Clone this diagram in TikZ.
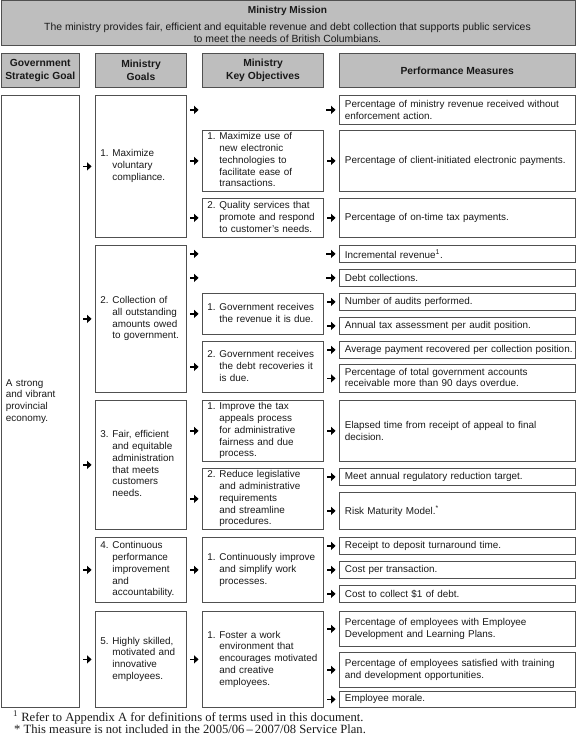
\documentclass[tikz,border=0pt]{standalone}
\usepackage{fontspec}
\setmainfont{Liberation Sans}
\newfontfamily\fnserif{Liberation Serif}
\usetikzlibrary{arrows.meta}
\definecolor{hdr}{RGB}{190,190,190}
\definecolor{bord}{RGB}{80,80,80}
\definecolor{txt}{RGB}{25,25,25}
\newcommand\li[2]{\makebox[12pt][l]{#1}\begin{tabular}[t]{@{}l@{}}#2\end{tabular}}
\newcommand\bx[6]{\node[#1, minimum height={(#5-#4)*1pt}] (#2) at (#3,#4) {#6};}
\tikzset{
 base/.style={draw=bord, line width=0.8pt, inner xsep=5pt, inner ysep=0pt, align=left, text=txt,
   font=\fontsize{9.9}{11.8}\selectfont, anchor=north west},
 c1/.style={base, minimum width=78.5pt, text width=68.5pt},
 c2/.style={base, minimum width=91pt, text width=81pt},
 c3/.style={base, minimum width=121pt, text width=111pt},
 c4/.style={base, minimum width=235.5pt, text width=224.5pt, inner xsep=5.5pt},
 hd/.style={base, fill=hdr, text width=, align=center, inner xsep=0pt, font=\bfseries\fontsize{10.3}{13}\selectfont, line width=1pt},
 arr/.style={line width=1.7pt, -{Triangle[length=4.6pt,width=8pt]}, shorten >=3.4pt, shorten <=3.4pt},
 plain/.style={inner sep=0pt, text=txt},
 fn/.style={inner sep=0pt, text=txt, font=\fnserif\fontsize{12.6}{13}\selectfont, anchor=base west},
}
\begin{document}
\begin{tikzpicture}[x=1pt,y=-1pt]
\useasboundingbox (0,0) rectangle (575,735);
% mission
\node[base, fill=hdr, minimum width=574pt, minimum height=44.5pt, line width=1pt] (mission) at (0.5,0.5) {};
\node[plain, font=\bfseries\fontsize{10.1}{12}\selectfont] (mtitle) at (287.5,10.5) {Ministry Mission};
\node[plain, align=center, font=\fontsize{10.4}{12}\selectfont] (mtext) at (287.5,33) {The ministry provides fair, efficient and equitable revenue and debt collection that supports public services\\to meet the needs of British Columbians.};
% headers
\bx{c1,hd}{h1}{0.5}{53}{87}{Government\\Strategic Goal}
\bx{c2,hd}{h2}{95}{53}{87}{Ministry\\Goals}
\bx{c3,hd}{h3}{202}{53}{87}{Ministry\\Key Objectives}
\bx{c4,hd}{h4}{339}{53}{87}{Performance Measures}
% government goal
\bx{c1}{gov}{0.5}{95}{707}{A strong\\and vibrant\\provincial\\economy.}
% ministry goals
\bx{c2}{g1}{95}{95}{237}{\li{1.}{Maximize\\voluntary\\compliance.}}
\bx{c2}{g2}{95}{245}{392}{\li{2.}{Collection of\\all outstanding\\amounts owed\\to government.}}
\bx{c2}{g3}{95}{400}{529}{\li{3.}{Fair, efficient\\and equitable\\administration\\that meets\\customers\\needs.}}
\bx{c2}{g4}{95}{537}{602}{\li{4.}{Continuous\\performance\\improvement\\and\\accountability.}}
\bx{c2}{g5}{95}{611}{707}{\li{5.}{Highly skilled,\\motivated and\\innovative\\employees.}}
% objectives
\bx{c3}{o11}{202}{130}{191}{\li{1.}{Maximize use of\\new electronic\\technologies to\\facilitate ease of\\transactions.}}
\bx{c3}{o12}{202}{198}{237}{\li{2.}{Quality services that\\promote and respond\\to customer’s needs.}}
\bx{c3}{o21}{202}{293}{334}{\li{1.}{Government receives\\the revenue it is due.}}
\bx{c3}{o22}{202}{341}{392}{\li{2.}{Government receives\\the debt recoveries it\\is due.}}
\bx{c3}{o31}{202}{400}{461}{\li{1.}{Improve the tax\\appeals process\\for administrative\\fairness and due\\process.}}
\bx{c3}{o32}{202}{468}{529}{\li{2.}{Reduce legislative\\and administrative\\requirements\\and streamline\\procedures.}}
\bx{c3}{o41}{202}{537}{602}{\li{1.}{Continuously improve\\and simplify work\\processes.}}
\bx{c3}{o51}{202}{611}{707}{\li{1.}{Foster a work\\environment that\\encourages motivated\\and creative\\employees.}}
% measures
\bx{c4}{m1}{339}{95}{124}{Percentage of ministry revenue received without\\enforcement action.}
\bx{c4}{m2}{339}{130}{191}{Percentage of client-initiated electronic payments.}
\bx{c4}{m3}{339}{198}{237}{Percentage of on-time tax payments.}
\bx{c4}{m4}{339}{245}{262}{Incremental revenue\textsuperscript{1}.}
\bx{c4}{m5}{339}{269}{286}{Debt collections.}
\bx{c4}{m6}{339}{293}{310}{Number of audits performed.}
\bx{c4}{m7}{339}{317}{334}{Annual tax assessment per audit position.}
\bx{c4}{m8}{339}{341}{358}{\mbox{Average payment recovered per collection position.}}
\bx{c4}{m9}{339}{364}{392}{Percentage of total government accounts\\receivable more than 90 days overdue.}
\bx{c4}{m10}{339}{400}{461}{Elapsed time from receipt of appeal to final\\decision.}
\bx{c4}{m11}{339}{468}{485}{Meet annual regulatory reduction target.}
\bx{c4}{m12}{339}{492}{529}{Risk Maturity Model.\textsuperscript{*}}
\bx{c4}{m13}{339}{537}{554}{Receipt to deposit turnaround time.}
\bx{c4}{m14}{339}{561}{578}{Cost per transaction.}
\bx{c4}{m15}{339}{585}{602}{Cost to collect \$1 of debt.}
\bx{c4}{m16}{339}{611}{646}{Percentage of employees with Employee\\Development and Learning Plans.}
\bx{c4}{m17}{339}{652}{687}{Percentage of employees satisfied with training\\and development opportunities.}
\bx{c4}{m18}{339}{691}{707}{Employee morale.}
% helper coordinates
\coordinate (c3l) at (202,0);
\coordinate (c3r) at (323,0);
% arrows: government goal -> ministry goals
\foreach \g in {g1,g2,g3,g4,g5} \draw[arr] (gov.east |- \g) -- (\g);
% ministry goals -> objectives
\draw[arr] (g1.east |- m1) -- (c3l |- m1);
\draw[arr] (g1.east |- o11) -- (o11);
\draw[arr] (g1.east |- o12) -- (o12);
\draw[arr] (g2.east |- m4) -- (c3l |- m4);
\draw[arr] (g2.east |- m5) -- (c3l |- m5);
\draw[arr] (g2.east |- o21) -- (o21);
\draw[arr] (g2.east |- o22) -- (o22);
\draw[arr] (g3.east |- o31) -- (o31);
\draw[arr] (g3.east |- o32) -- (o32);
\draw[arr] (g4.east |- o41) -- (o41);
\draw[arr] (g5.east |- o51) -- (o51);
% objectives -> measures
\draw[arr] (c3r |- m1) -- (m1);
\draw[arr] (o11.east |- m2) -- (m2);
\draw[arr] (o12.east |- m3) -- (m3);
\draw[arr] (c3r |- m4) -- (m4);
\draw[arr] (c3r |- m5) -- (m5);
\draw[arr] (o21.east |- m6) -- (m6);
\draw[arr] (o21.east |- m7) -- (m7);
\draw[arr] (o22.east |- m8) -- (m8);
\draw[arr] (o22.east |- m9) -- (m9);
\draw[arr] (o31.east |- m10) -- (m10);
\draw[arr] (o32.east |- m11) -- (m11);
\draw[arr] (o32.east |- m12) -- (m12);
\draw[arr] (o41.east |- m13) -- (m13);
\draw[arr] (o41.east |- m14) -- (m14);
\draw[arr] (o41.east |- m15) -- (m15);
\draw[arr] (o51.east |- m16) -- (m16);
\draw[arr] (o51.east |- m17) -- (m17);
\draw[arr] (o51.east |- m18) -- (m18);
% footnotes
\node[fn] (f1) at (13,721) {\textsuperscript{1} Refer to Appendix A for definitions of terms used in this document.};
\node[fn] (f2) at (14,733.5) {* This measure is not included in the 2005/06\,–\,2007/08 Service Plan.};
\end{tikzpicture}
\end{document}
